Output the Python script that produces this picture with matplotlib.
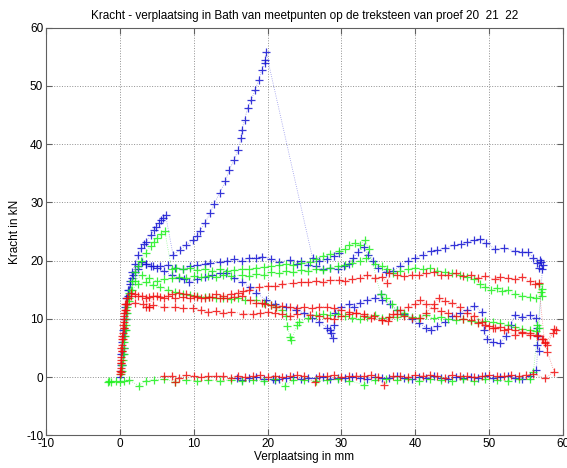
import matplotlib.pyplot as plt

plt.rcParams['font.family'] = ['Liberation Sans', 'DejaVu Sans']
plt.rcParams['axes.unicode_minus'] = False

# proef 20 = blauw, 21 = groen, 22 = rood
# (verplaatsing [mm], kracht [kN]) per meetpunt, afgelezen

blauw_1 = [(0, 0), (0.1, 2), (0.2, 4), (0.3, 6), (0.4, 8), (0.5, 10), (0.7, 12), (0.9, 13.5),
           (1.1, 15), (1.4, 16.5), (1.7, 18), (2.1, 19.5), (2.5, 21), (2.9, 22.1), (3.3, 22.8),
           (3.6, 23.2), (4.2, 24.4), (4.6, 25.2), (4.9, 25.8), (5.3, 26.5), (5.6, 27), (5.9, 27.3),
           (6.2, 27.8), (7.2, 21.0), (8.1, 21.8), (9.0, 22.7), (9.9, 23.5), (10.4, 24.2), (10.8, 25),
           (11.5, 26.4), (12.2, 28.1), (12.8, 29.8), (13.5, 31.6), (14.3, 33.6), (14.8, 35.6),
           (15.5, 37.3), (16.0, 39), (16.4, 41), (16.5, 42.4), (16.9, 44.2), (17.3, 46.2),
           (17.8, 47.6), (18.3, 49.3), (18.8, 51.0), (19.2, 52.7), (19.6, 53.9), (19.7, 54.5),
           (19.8, 55.8), (26.1, 20.4), (27.0, 20.0), (28.0, 20.3), (29.0, 20.8), (29.7, 21.3)]

blauw_2 = [(0.2, 1), (0.4, 4), (0.6, 7), (0.8, 10), (1.0, 12.5), (1.3, 15), (1.6, 17), (2.0, 18),
           (2.5, 18.5), (3.5, 19.5), (4.2, 19), (5.0, 18.8), (6.0, 18.2), (7.0, 17.5), (8.0, 17.0),
           (8.7, 16.8), (9.4, 16.4), (10.5, 16.8), (11.5, 17.2), (12.5, 17.5), (13.5, 17.8),
           (14.4, 17.8), (15.5, 17.0), (16.5, 16.3), (17.6, 15.5), (18.5, 14.5), (19.8, 13.2),
           (21.0, 12.5), (22.5, 12.0), (23.9, 11.5), (25.0, 11.0), (26.0, 10.2), (27.0, 9.5),
           (28.0, 8.5), (28.4, 8.1), (28.6, 7.5), (28.8, 6.7), (29.0, 9.0), (29.2, 11.0),
           (30.0, 12.0), (31.0, 12.5), (31.7, 12.0), (32.5, 12.8), (33.5, 13.3), (34.5, 13.6),
           (35.3, 14.3), (35.5, 13.2), (36.6, 12.5), (37.5, 11.5), (38.5, 10.8), (39.5, 10.0),
           (40.5, 9.2), (41.5, 8.5), (42.1, 8.1), (43.0, 8.8), (44.0, 9.5), (45.0, 10.5),
           (46.0, 11.0), (47.0, 11.5), (48.0, 12.2), (49.0, 11.2), (49.3, 8.0), (49.7, 6.5),
           (50.5, 6.0), (51.5, 5.8), (52.3, 7.0), (53.0, 9.0), (53.5, 10.7), (54.5, 10.4),
           (55.5, 10.6), (56.3, 10.1), (56.5, 8.5), (56.6, 7.0), (56.5, 5.5), (56.7, 4.5)]

blauw_3 = [(0.3, 2), (0.5, 5), (0.7, 8), (0.9, 11), (1.1, 14), (1.4, 16), (1.8, 17.5), (2.5, 19),
           (3.0, 19.8), (3.5, 19.5), (4.5, 19.0), (5.4, 19.0), (6.5, 19.3), (7.5, 18.8), (8.5, 18.5),
           (9.5, 19.0), (10.5, 19.2), (11.5, 19.5), (12.2, 19.6), (13.5, 19.8), (14.5, 20.0),
           (15.5, 20.2), (16.5, 20.0), (17.5, 20.5), (18.5, 20.5), (19.3, 20.7), (20.5, 20.3),
           (21.6, 19.8), (23.0, 20.1), (24.0, 19.5), (24.5, 19.9), (25.5, 19.3), (26.5, 19.0),
           (27.5, 18.5), (28.5, 18.8), (29.5, 18.5), (30.3, 19.0), (31.0, 19.5), (31.6, 20.5),
           (32.3, 21.5), (33.0, 22.3), (33.6, 21.0), (34.3, 20.0), (35.0, 18.8), (36.0, 18.0),
           (37.0, 18.3), (38.0, 19.0), (39.0, 20.0), (40.0, 20.5), (41.0, 21.0), (42.1, 21.7),
           (43.0, 21.8), (44.0, 22.2), (45.3, 22.6), (46.2, 22.8), (47.0, 23.2), (48.0, 23.5),
           (48.8, 23.7), (49.6, 23.0), (50.8, 22.0), (52.0, 22.1), (53.5, 21.7), (54.5, 21.5),
           (55.3, 21.4), (56.0, 20.5), (56.5, 19.6), (56.8, 18.8), (57.0, 19.8), (57.3, 19.2),
           (56.9, 20.1), (57.2, 18.5), (56.4, 1.2), (55.5, 0.2), (54.5, -0.3), (53.5, -0.1),
           (52.5, 0.1), (51.5, 0.0), (50.5, -0.2), (49.5, 0.1), (48.5, -0.1), (47.5, 0.0),
           (46.5, -0.2), (45.5, 0.0), (44.5, -0.3), (43.5, -0.1), (42.5, 0.1), (41.5, -0.2),
           (40.5, 0.0), (39.5, -0.3), (38.5, -0.2), (37.5, 0.1), (36.5, -0.1), (35.5, -0.2),
           (34.5, 0.0), (33.5, -0.3), (32.5, -0.2), (31.5, 0.0), (30.5, -0.2), (29.5, -0.1),
           (28.5, -0.3), (27.5, 0.0), (26.5, -0.2), (25.5, -0.1), (24.5, -0.3), (23.5, 0.0),
           (22.5, -0.2), (21.5, -0.3), (21.0, -0.5), (20.8, -0.4), (19.5, -0.3), (18.5, 0.0),
           (17.5, -0.2), (16.5, -0.5), (15.8, -0.2)]

groen_1 = [(0.2, 0.5), (0.4, 3), (0.6, 6), (0.8, 9), (1.0, 12), (1.3, 14.5), (1.6, 16.5), (2.0, 18),
           (2.5, 19), (2.9, 20), (3.5, 21.3), (4.2, 22.5), (4.6, 23.2), (5.0, 23.8), (5.6, 24.5),
           (6.1, 25.0), (7.0, 18.5), (7.6, 18.8), (8.5, 18.5), (9.5, 18.7), (10.5, 18.4),
           (11.5, 18.6), (12.5, 18.3), (13.5, 18.5), (14.5, 18.2), (15.5, 18.4), (16.5, 18.6),
           (17.5, 18.5), (18.5, 18.8), (19.5, 18.9), (20.5, 19.0), (21.5, 19.2), (22.5, 19.4),
           (23.5, 19.3), (24.5, 19.6), (25.7, 19.8), (26.5, 20.3), (27.5, 20.8), (28.5, 21.2),
           (29.7, 21.6), (30.5, 22.0), (31.0, 22.6), (31.8, 23.0), (32.5, 22.7), (33.2, 23.5),
           (33.7, 22.0), (35.3, 14.3), (36.0, 13.5), (36.8, 12.5), (37.5, 11.5), (38.5, 11.0)]

groen_2 = [(0.3, 2), (0.5, 5), (0.8, 8), (1.0, 11), (1.3, 13.5), (1.6, 15), (2.5, 16), (3.5, 16.3),
           (4.5, 15.8), (5.5, 15.5), (6.5, 15.0), (7.5, 14.6), (8.5, 14.3), (9.5, 14.1),
           (10.5, 14.0), (11.5, 13.8), (12.1, 13.8), (13.0, 13.6), (14.0, 13.5), (15.0, 13.4),
           (16.0, 13.5), (17.0, 13.3), (18.5, 13.2), (19.5, 12.8), (20.5, 12.3), (21.2, 12.1),
           (22.0, 11.5), (22.5, 10.5), (22.7, 8.8), (23.0, 6.9), (23.2, 6.3), (24.0, 9.0),
           (24.3, 9.4), (25.5, 10.2), (26.5, 10.6), (27.5, 10.8), (28.5, 10.6), (29.5, 10.8),
           (30.5, 10.5), (31.5, 10.2), (32.5, 10.0), (33.5, 10.3), (34.5, 10.6), (35.5, 10.1),
           (36.5, 10.3), (37.5, 10.4), (38.5, 10.6), (39.5, 10.3), (40.5, 10.2), (41.5, 10.6),
           (42.5, 10.1), (43.5, 10.3), (44.5, 10.0), (45.5, 9.8), (46.5, 10.0), (47.5, 9.6),
           (48.5, 9.5), (49.5, 9.7), (50.5, 9.4), (51.5, 9.2), (52.5, 9.0), (53.5, 8.6),
           (54.5, 8.2), (55.5, 8.0), (56.3, 7.9), (56.7, 8.5), (56.5, 9.0)]

groen_3 = [(0.3, 1), (0.5, 4), (0.7, 7), (0.9, 10), (1.2, 13), (1.5, 15), (2.0, 16.5), (3.0, 17.5),
           (4.0, 17.0), (5.0, 16.5), (6.0, 16.8), (7.0, 17.0), (8.0, 17.2), (9.0, 17.0), (10.0, 17.3),
           (11.0, 17.1), (12.0, 17.4), (13.0, 17.2), (14.0, 17.5), (15.0, 17.3), (16.6, 17.5),
           (17.5, 17.4), (18.5, 17.7), (19.5, 17.6), (20.5, 18.0), (21.5, 17.8), (22.5, 18.2),
           (23.5, 18.0), (24.5, 18.4), (25.5, 18.3), (26.5, 18.5), (27.5, 18.4), (28.5, 18.8),
           (29.5, 19.0), (30.5, 19.3), (31.5, 19.6), (32.5, 20.0), (33.3, 20.4), (34.5, 19.5),
           (35.5, 19.0), (36.2, 18.5), (37.0, 17.8), (38.0, 18.2), (39.0, 18.6), (40.0, 18.8),
           (41.0, 18.5), (42.0, 18.7), (43.0, 18.3), (44.0, 18.0), (45.0, 17.8), (46.0, 17.6),
           (47.0, 17.2), (48.0, 16.8), (48.8, 16.0), (49.5, 15.5), (50.2, 15.0), (51.0, 15.3),
           (51.8, 14.8), (52.6, 15.0), (53.5, 14.3), (54.5, 14.0), (55.5, 13.8), (56.3, 13.6),
           (57.2, 13.9), (57.0, 14.6), (56.7, 16.0), (57.1, 15.2), (56.0, 0.8), (55.5, -0.3),
           (54.0, -0.4), (52.5, -0.6), (51.0, -0.5), (49.5, -0.4), (48.0, -0.7), (46.5, -0.4),
           (45.0, -0.6), (43.5, -0.5), (42.0, -0.4), (40.5, -0.6), (39.0, -0.3), (37.5, -0.5),
           (36.0, -0.4), (34.5, -0.5), (33.0, -1.3), (31.0, -0.6), (29.5, -0.4), (28.0, -0.5),
           (26.5, -0.6), (25.0, -0.5), (23.5, -0.5), (22.4, -1.5), (21.0, -0.4), (19.5, -0.6),
           (18.0, -0.5), (16.5, -0.7), (15.0, -0.5), (13.5, -0.6), (12.0, -0.5), (10.5, -0.6),
           (9.0, -0.5), (7.5, -0.8), (6.0, -0.4), (4.6, -0.5), (3.5, -0.6), (2.6, -1.5),
           (1.2, -0.5), (0.5, -0.6), (0.0, -0.8), (-0.5, -0.7), (-1.2, -0.9), (-1.6, -0.8),
           (-1.4, -0.6)]

rood_1 = [(0.0, 0.5), (0.1, 1.5), (0.15, 2.5), (0.2, 3.5), (0.25, 4.5), (0.3, 5.5), (0.35, 6.5),
          (0.4, 7.5), (0.5, 8.5), (0.55, 9.5), (0.6, 10.5), (0.7, 11.5), (0.8, 12.5), (1.0, 13.5),
          (1.5, 14.0), (2.0, 14.2), (3.0, 14.0), (4.0, 13.8), (5.0, 14.0), (6.0, 13.5), (7.0, 14.2),
          (8.0, 14.5), (9.0, 14.3), (10.0, 14.0), (11.0, 13.6), (12.1, 13.8), (13.0, 14.2),
          (14.0, 14.0), (15.0, 14.3), (16.0, 14.5), (16.7, 14.7), (17.5, 15.0), (18.9, 15.5),
          (20.0, 15.7), (21.0, 15.6), (22.0, 16.0), (23.4, 16.1), (24.5, 16.3), (25.5, 16.3),
          (26.5, 16.5), (27.5, 16.4), (28.5, 16.6), (29.7, 16.7), (30.5, 16.5), (31.5, 16.8),
          (32.5, 17.0), (33.5, 17.5), (34.5, 17.0), (35.5, 17.2), (36.2, 16.2), (36.5, 17.8),
          (37.5, 17.5), (38.5, 17.3), (39.5, 17.6), (40.5, 17.5), (41.5, 17.8), (42.5, 18.0),
          (43.5, 17.6), (44.5, 17.5), (45.5, 17.8), (46.5, 17.3), (47.5, 17.5), (48.5, 17.0),
          (49.5, 17.3), (50.8, 16.8), (51.5, 17.2), (52.5, 17.0), (53.5, 16.8), (54.5, 17.2),
          (55.5, 16.5), (56.2, 16.0), (56.7, 16.2), (57.5, 6.0), (57.9, 5.5), (58.8, 8.2),
          (59.0, 8.0), (58.6, 7.6), (57.6, 5.8), (57.9, 4.3), (58.8, 0.9), (57.6, -0.2),
          (56.0, 0.5), (55.0, 0.4), (54.0, 0.1), (53.0, 0.3), (52.0, 0.2), (51.0, 0.1),
          (50.0, 0.3), (49.0, 0.2), (48.0, 0.0), (47.0, 0.2), (46.0, 0.1), (45.0, 0.3),
          (44.0, -0.2), (43.0, 0.1), (42.0, 0.4), (41.0, 0.2), (40.0, 0.3), (39.0, 0.0),
          (38.0, 0.1), (37.0, 0.2), (35.7, -1.4), (35.0, 0.0), (34.0, 0.3), (33.0, 0.1),
          (32.0, 0.2), (31.0, 0.1), (30.0, 0.0), (29.0, 0.3), (28.0, 0.1), (27.0, 0.2),
          (26.4, -0.9), (25.0, 0.2), (24.0, 0.3), (23.0, 0.1), (22.0, 0.0), (21.0, 0.2),
          (20.0, 0.0), (19.0, 0.3), (18.0, 0.1), (17.0, 0.0), (16.0, 0.2), (15.0, -0.1),
          (14.0, 0.1), (13.0, 0.2), (12.0, 0.1), (11.0, 0.0), (10.0, 0.2), (9.0, 0.3),
          (8.0, -0.2), (7.5, -0.8), (7.0, 0.2), (6.0, 0.1)]

rood_2 = [(0.1, 0.8), (0.2, 2.5), (0.3, 4.5), (0.4, 6.5), (0.5, 8.5), (0.6, 10.0), (0.8, 11.5),
          (1.0, 12.5), (2.0, 12.8), (3.1, 12.5), (3.5, 12.0), (4.0, 12.1), (4.5, 12.3), (6.0, 12.0),
          (7.5, 12.0), (8.5, 11.8), (9.9, 11.8), (11.0, 11.5), (12.0, 11.2), (13.0, 11.3),
          (14.0, 11.0), (15.0, 11.2), (16.7, 10.9), (18.0, 10.8), (19.0, 11.0), (20.0, 11.2),
          (21.0, 11.0), (22.0, 10.8), (23.0, 10.5), (24.0, 10.8), (25.7, 10.7), (27.0, 10.5),
          (28.0, 10.2), (29.0, 10.0), (30.0, 10.5), (31.0, 10.8), (32.0, 11.0), (33.0, 10.5),
          (34.0, 10.2), (35.5, 9.8), (36.5, 10.3), (37.5, 10.8), (38.5, 10.5), (39.5, 10.2),
          (40.7, 10.1), (41.5, 11.0), (42.5, 12.5), (43.2, 13.5), (44.0, 13.0), (45.0, 12.8),
          (46.0, 12.0), (47.0, 11.0), (48.0, 10.5), (49.0, 9.5), (50.0, 8.8), (50.8, 8.4),
          (52.0, 8.0), (53.5, 7.3), (54.5, 7.5), (55.5, 7.3), (56.5, 7.0), (57.3, 6.5)]

rood_3 = [(0.0, 1), (0.1, 3), (0.2, 5), (0.3, 7), (0.4, 9), (0.5, 11), (0.7, 12.5), (1.0, 13.5),
          (1.5, 14.5), (2.5, 14.0), (3.5, 13.5), (4.0, 12.1), (4.5, 14.0), (5.5, 13.8), (6.5, 14.0),
          (7.5, 13.5), (8.5, 13.7), (9.5, 13.5), (10.5, 13.8), (11.5, 13.5), (12.5, 13.7),
          (13.5, 13.5), (14.5, 13.6), (15.5, 13.8), (16.5, 14.0), (17.6, 13.2), (18.5, 12.8),
          (19.3, 12.7), (19.7, 12.6), (20.5, 12.3), (21.2, 12.0), (22.0, 12.2), (23.0, 12.0),
          (24.0, 11.8), (25.0, 12.0), (26.0, 11.8), (27.0, 12.1), (28.0, 12.0), (29.0, 11.8),
          (30.0, 11.5), (31.0, 11.2), (32.0, 11.0), (33.0, 10.8), (34.4, 10.5), (35.5, 9.8),
          (36.3, 9.6), (37.0, 10.8), (38.0, 11.5), (39.0, 12.0), (40.0, 12.5), (40.7, 13.2),
          (41.5, 12.5), (42.5, 11.8), (43.5, 11.3), (44.5, 11.0), (45.5, 10.5), (46.5, 10.0),
          (47.5, 9.8), (48.5, 9.3), (49.5, 9.0), (50.5, 8.5), (51.5, 8.6), (52.5, 8.3),
          (53.5, 8.0), (54.5, 7.8), (55.5, 7.6), (56.5, 7.2), (57.2, 6.5)]

series = [(blauw_1, 'b'), (blauw_2, 'b'), (blauw_3, 'b'),
          (groen_1, 'g'), (groen_2, 'g'), (groen_3, 'g'),
          (rood_1, 'r'), (rood_2, 'r'), (rood_3, 'r')]
kleuren = {'b': '#1414d2', 'g': '#1ef01e', 'r': '#f01010'}

fig = plt.figure(figsize=(5.67, 4.68), dpi=100)
ax = fig.add_axes([0.0811, 0.0699, 0.9118, 0.8709])

for punten, k in series:
    x = [p[0] for p in punten]
    y = [p[1] for p in punten]
    ax.plot(x, y, ':', color=kleuren[k], lw=0.6, alpha=0.45)
    ax.plot(x, y, '+', color=kleuren[k], ms=6, mew=0.9, alpha=0.85)

ax.set_xlim(-10, 60)
ax.set_ylim(-10, 60)
ax.set_xticks(range(-10, 61, 10))
ax.set_yticks(range(-10, 61, 10))
ax.grid(True, ls=':', color='#909090', lw=0.7)
ax.tick_params(direction='in', length=4, top=True, right=True, labelsize=8.5,
               color='#606060', pad=2)
for s in ax.spines.values():
    s.set_color('#606060')

ax.set_xlabel('Verplaatsing in mm', fontsize=8.5, labelpad=1)
ax.set_ylabel('Kracht in kN', fontsize=8.5, labelpad=4)
ax.set_title('Kracht - verplaatsing in Bath van meetpunten op de treksteen van proef 20  21  22',
             fontsize=8.5, pad=6)

fig.savefig('out.png', dpi=100)
